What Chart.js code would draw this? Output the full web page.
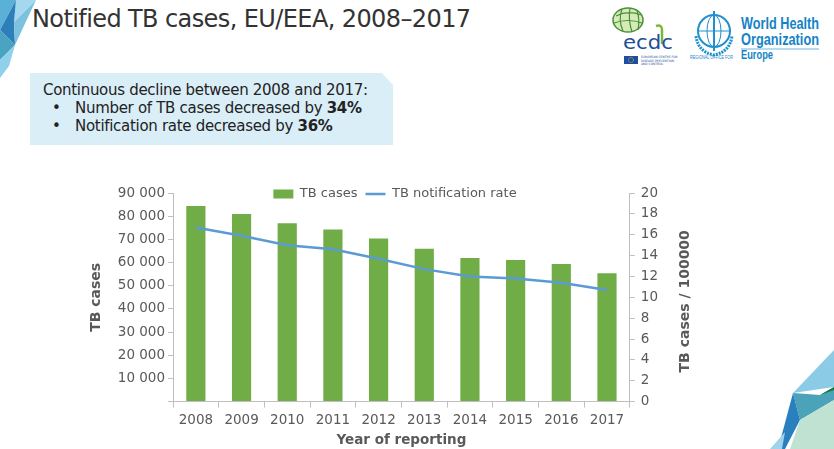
<!DOCTYPE html>
<html>
<head>
<meta charset="utf-8">
<script src="https://cdn.jsdelivr.net/npm/chart.js@4"></script>
<style>
  body { margin:0; width:834px; height:449px; overflow:hidden; background:#fff; position:relative; font-family:"DejaVu Sans", sans-serif; }
  #title { position:absolute; left:32px; top:5px; font-size:24px; color:#333; white-space:nowrap; letter-spacing:-0.6px; }
  #box { position:absolute; left:30px; top:73px; width:363px; height:72px; background:#daeef8;
         clip-path:polygon(0 0, 352px 0, 363px 12px, 363px 72px, 0 72px); }
  #box div { position:absolute; font-size:15px; color:#222; white-space:nowrap; letter-spacing:-0.3px; }
  #wrap { position:absolute; left:0; top:162px; width:834px; height:287px; }
  svg { position:absolute; }
</style>
</head>
<body>
<svg style="left:0;top:0" width="40" height="80">
  <polygon points="0,0 16,0 0,30" fill="#5bb0d8"/>
  <polygon points="16,0 36,0 14,22" fill="#a5d8ef"/>
  <polygon points="0,30 16,0 14,22 15,45" fill="#2c7fb8"/>
  <polygon points="0,30 15,45 0,60" fill="#4aa3c0"/>
  <polygon points="14,22 36,0 15,45" fill="#7cc1dd"/>
  <polygon points="0,60 15,45 9,66 0,78" fill="#8fd0ea"/>
</svg>
<svg style="left:760px;top:340px" width="74" height="109">
  <polygon points="33,53 74,10 74,47" fill="#8ccbe6"/>
  <polygon points="33,53 60,55 74,47 74,60 40,80" fill="#4aa3b8"/>
  <polygon points="60,55 74,47 74,50" fill="#157a3c"/>
  <polygon points="33,53 40,80 25,109 18,109" fill="#2a7fbf"/>
  <polygon points="40,80 74,60 74,109 30,109" fill="#bfe2d2"/>
  <polygon points="10,109 25,92 22,109" fill="#9fd3ec"/>
</svg>
<div id="title">Notified TB cases, EU/EEA, 2008–2017</div>
<div id="box">
  <div style="left:13px;top:8px">Continuous decline between 2008 and 2017:</div>
  <div style="left:22px;top:26px">•</div>
  <div style="left:45px;top:26px">Number of TB cases decreased by <b>34%</b></div>
  <div style="left:22px;top:44px">•</div>
  <div style="left:45px;top:44px">Notification rate decreased by <b>36%</b></div>
</div>
<!-- ecdc logo -->
<svg style="left:608px;top:4px" width="72" height="64">
  <ellipse cx="20" cy="16" rx="15" ry="12" fill="#d6ebb8" stroke="#4a8f3a" stroke-width="1.5"/>
  <path d="M8 12 Q20 6 33 11 M6 19 Q20 14 34 19 M14 5 Q10 16 15 27 M22 4 Q20 16 24 28 M29 6 Q32 16 30 26" stroke="#4a8f3a" stroke-width="1.2" fill="none"/>
  <path d="M54 40 L54 26 Q54 20 48 22" stroke="#7ab83a" stroke-width="2.5" fill="none"/>
  <text x="15" y="45" font-family="DejaVu Sans" font-size="20" fill="#1f4f95" textLength="50" lengthAdjust="spacingAndGlyphs">ecdc</text>
  <rect x="16" y="52" width="14" height="8" fill="#1f4ea0"/>
  <circle cx="23" cy="56" r="2.5" fill="none" stroke="#f7d000" stroke-width="0.8" stroke-dasharray="1 1"/>
  <text x="33" y="54" font-size="3" fill="#1f4ea0">EUROPEAN CENTRE FOR</text>
  <text x="33" y="57.5" font-size="3" fill="#1f4ea0">DISEASE PREVENTION</text>
  <text x="33" y="61" font-size="3" fill="#1f4ea0">AND CONTROL</text>
</svg>
<!-- WHO logo -->
<svg style="left:688px;top:4px" width="140" height="64">
  <circle cx="26" cy="27" r="16" fill="none" stroke="#1f8fd0" stroke-width="2"/>
  <ellipse cx="26" cy="27" rx="7" ry="16" fill="none" stroke="#1f8fd0" stroke-width="1"/>
  <line x1="10" y1="27" x2="42" y2="27" stroke="#1f8fd0" stroke-width="1"/>
  <line x1="26" y1="7" x2="26" y2="47" stroke="#1f8fd0" stroke-width="2"/>
  <path d="M8 32 Q10 48 26 51 Q42 48 44 32" fill="none" stroke="#1f8fd0" stroke-width="3" stroke-dasharray="2 1"/>
  <text x="53" y="25" font-family="Liberation Sans" font-weight="bold" font-size="17" fill="#1483c6" textLength="78" lengthAdjust="spacingAndGlyphs">World Health</text>
  <text x="53" y="41" font-family="Liberation Sans" font-weight="bold" font-size="17" fill="#1483c6" textLength="78" lengthAdjust="spacingAndGlyphs">Organization</text>
  <line x1="53" y1="45" x2="131" y2="45" stroke="#1483c6" stroke-width="0.6"/>
  <text x="2" y="55" font-family="Liberation Sans" font-size="4.5" fill="#1483c6" textLength="43" lengthAdjust="spacingAndGlyphs">REGIONAL OFFICE FOR</text>
  <text x="53" y="55" font-family="Liberation Sans" font-weight="bold" font-size="13" fill="#1483c6" textLength="32" lengthAdjust="spacingAndGlyphs">Europe</text>
</svg>
<div id="wrap"><canvas id="chart"></canvas></div>
<script>
const YEARS = ['2008', '2009', '2010', '2011', '2012', '2013', '2014', '2015', '2016', '2017'];
const TB_CASES = [84400, 80900, 76900, 74300, 70400, 66000, 62000, 61100, 59400, 55400];
const TB_RATE = [16.7, 15.9, 15.0, 14.6, 13.7, 12.7, 12.0, 11.8, 11.4, 10.7];

const GREY = '#595959';
const AXIS = '#bfbfbf';
const FONT = 'DejaVu Sans';

function spaced(v) {
  return String(v).replace(/\B(?=(\d{3})+(?!\d))/g, ' ');
}

// legend sits on the same line as the top tick, and right title reads bottom-up
const slideTweaks = {
  id: 'slideTweaks',
  afterLayout(chart) {
    const lg = chart.legend;
    const dy = chart.chartArea.top - (lg.top + lg.bottom) / 2 + 2;
    lg.top += dy;
    lg.bottom += dy;
    lg.left += 24;
    lg.right += 24;
  },
  afterDraw(chart) {
    const c = chart.ctx;
    const a = chart.chartArea;
    c.save();
    c.translate(a.right + 56, (a.top + a.bottom) / 2 + 4);
    c.rotate(-Math.PI / 2);
    c.fillStyle = GREY;
    c.font = 'bold 14px "' + FONT + '"';
    c.textAlign = 'center';
    c.textBaseline = 'middle';
    c.fillText('TB cases / 100000', 0, 0);
    c.restore();
  }
};

let ctx = document.querySelector('#chart').getContext('2d');
let myChart = new Chart(ctx, {
  data: {
    labels: YEARS,
    datasets: [{
      type: 'line',
      label: 'TB notification rate',
      data: TB_RATE,
      yAxisID: 'y1',
      borderColor: '#5b9bd5',
      backgroundColor: '#5b9bd5',
      borderWidth: 2.5,
      pointRadius: 0,
      tension: 0,
      pointStyle: 'line',
      order: 0
    }, {
      type: 'bar',
      label: 'TB cases',
      data: TB_CASES,
      yAxisID: 'y',
      backgroundColor: '#70ad47',
      barPercentage: 0.84,
      categoryPercentage: 0.5,
      pointStyle: 'rect',
      order: 1
    }]
  },
  options: {
    responsive: true,
    maintainAspectRatio: false,
    animation: false,
    layout: { padding: { left: 78, right: 170, top: 0, bottom: 0 } },
    plugins: {
      tooltip: { enabled: false },
      legend: {
        position: 'top',
        reverse: true,
        labels: {
          usePointStyle: true,
          pointStyleWidth: 20,
          boxHeight: 9,
          padding: 8,
          color: GREY,
          font: { family: FONT, size: 13 }
        }
      }
    },
    scales: {
      x: {
        grid: { drawOnChartArea: false, color: AXIS, tickLength: 6, offset: true },
        border: { color: AXIS },
        ticks: { color: GREY, font: { family: FONT, size: 13.5 }, padding: 5, maxRotation: 0 },
        title: { display: true, text: 'Year of reporting', color: GREY, font: { family: FONT, size: 13.5, weight: 'bold' }, padding: { top: -1, bottom: 0 } }
      },
      y: {
        position: 'left',
        min: 0, max: 90000,
        grid: { drawOnChartArea: false, color: AXIS, tickLength: 5 },
        border: { color: AXIS },
        ticks: {
          stepSize: 10000,
          color: GREY,
          padding: 3,
          font: { family: FONT, size: 13.5 },
          callback: v => v === 0 ? '' : spaced(v)
        },
        title: { display: true, text: 'TB cases', color: GREY, font: { family: FONT, size: 14, weight: 'bold' }, padding: 10 }
      },
      y1: {
        position: 'right',
        min: 0, max: 20,
        grid: { drawOnChartArea: false, color: AXIS, tickLength: 5 },
        border: { color: AXIS },
        ticks: { stepSize: 2, color: GREY, padding: 6, font: { family: FONT, size: 13.5 } }
      }
    }
  },
  plugins: [slideTweaks]
});
</script>
</body>
</html>
